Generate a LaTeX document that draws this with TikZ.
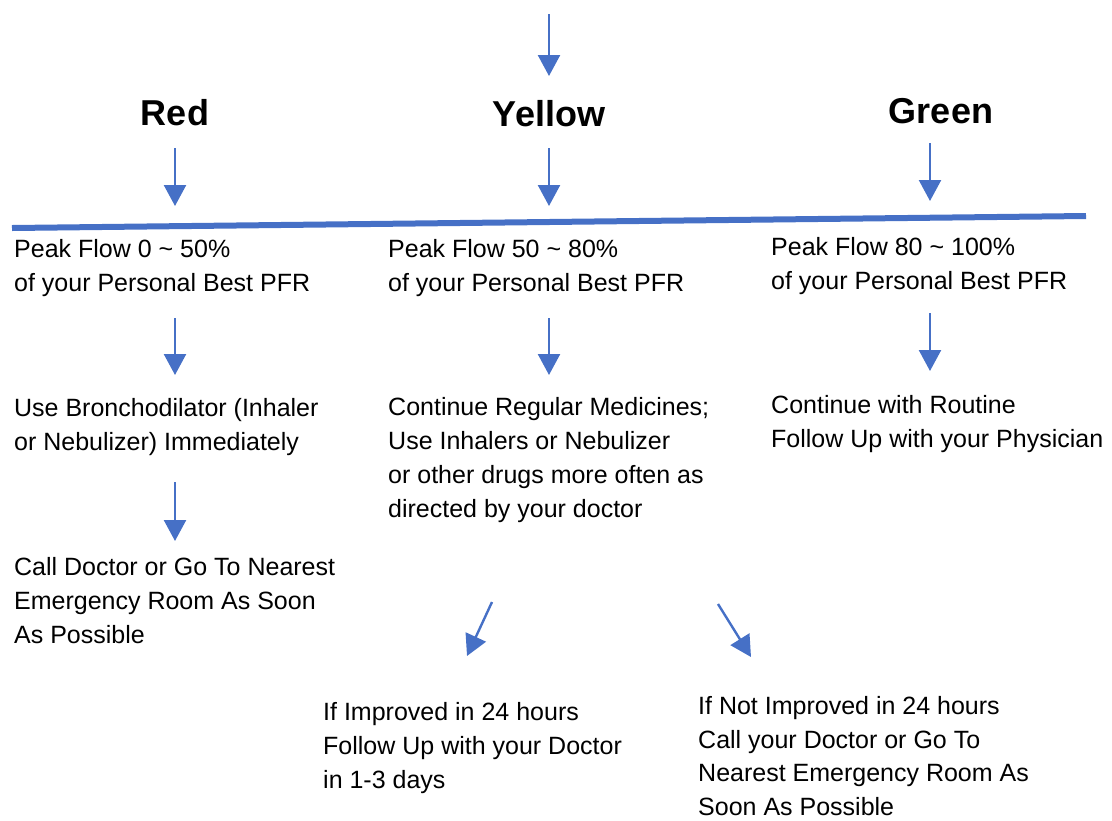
\documentclass[tikz,border=0pt]{standalone}
\usepackage{fontspec}
\setmainfont{Liberation Sans}
\usetikzlibrary{arrows.meta}
\definecolor{arrowblue}{RGB}{70,112,198}
\tikzset{
  flowarrow/.style={draw=arrowblue, line width=2.4pt, -{Triangle[width=22pt,length=21pt]}, arrowblue},
  title/.style={anchor=base, inner sep=0pt, font=\fontsize{36}{40}\selectfont\bfseries},
  % multi-line nodes: "base" is the baseline of the last line
  body/.style={anchor=base west, inner sep=0pt, align=left, font=\fontsize{25}{34}\selectfont},
}
\begin{document}
\begin{tikzpicture}[x=1pt,y=-1pt]
\useasboundingbox (0,0) rectangle (1112,820);
% titles
\node[title] (red) at (175,125) {Red};
\node[title] (yellow) at (549,126) {Yellow};
\node[title] (green) at (941,123) {Green};
% top arrow
\coordinate (top) at (549,14);
\draw[flowarrow] (top) -- (yellow.north |- 0,76);
% horizontal bar
\coordinate (barl) at (12,228);
\coordinate (barr) at (1086,216);
\draw[arrowblue, line width=6pt] (barl) -- (barr);
% level texts
\node[body] (r1) at (14,291) {Peak Flow 0 \char"007E{} 50\%\\of your Personal Best PFR};
\node[body] (y1) at (388,291) {Peak Flow 50 \char"007E{} 80\%\\of your Personal Best PFR};
\node[body] (g1) at (771,289) {Peak Flow 80 \char"007E{} 100\%\\of your Personal Best PFR};
% arrows title -> bar
\coordinate (ra1) at (175,148); \coordinate (rb1) at (175,206);
\coordinate (ya1) at (549,148); \coordinate (yb1) at (549,206);
\coordinate (ga1) at (930,143); \coordinate (gb1) at (930,201);
\draw[flowarrow] (ra1) -- (rb1);
\draw[flowarrow] (ya1) -- (yb1);
\draw[flowarrow] (ga1) -- (gb1);
% second texts
\node[body] (r2) at (14,450) {Use Bronchodilator (Inhaler\\or Nebulizer) Immediately};
\node[body] (y2) at (388,517) {Continue Regular Medicines;\\Use Inhalers or Nebulizer\\or other drugs more often as\\directed by your doctor};
\node[body] (g2) at (771,447) {Continue with Routine\\Follow Up with your Physician};
\coordinate (ra2) at (175,318); \coordinate (rb2) at (175,375);
\coordinate (ya2) at (549,318); \coordinate (yb2) at (549,375);
\coordinate (ga2) at (930,313); \coordinate (gb2) at (930,371);
\draw[flowarrow] (ra2) -- (rb2);
\draw[flowarrow] (ya2) -- (yb2);
\draw[flowarrow] (ga2) -- (gb2);
% red third
\node[body] (r3) at (14,643) {Call Doctor or Go To Nearest\\Emergency Room As Soon\\As Possible};
\coordinate (ra3) at (175,482); \coordinate (rb3) at (175,541);
\draw[flowarrow] (ra3) -- (rb3);
% yellow branches
\node[body] (y3a) at (323,788) {If Improved in 24 hours\\Follow Up with your Doctor\\in 1-3 days};
\node[body, font=\fontsize{25}{33.5}\selectfont] (y3b) at (698,815) {If Not Improved in 24 hours\\Call your Doctor or Go To\\Nearest Emergency Room As\\Soon As Possible};
\coordinate (la) at (492,602); \coordinate (lb) at (467,656);
\coordinate (rra) at (718,604); \coordinate (rrb) at (751,657);
\draw[flowarrow] (la) -- (lb);
\draw[flowarrow] (rra) -- (rrb);
\end{tikzpicture}
\end{document}
